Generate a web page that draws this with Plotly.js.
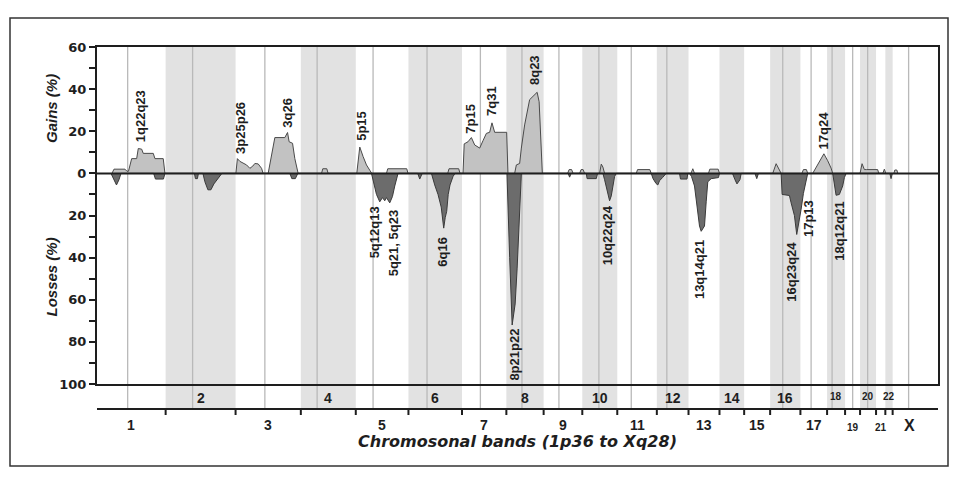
<!DOCTYPE html>
<html>
<head>
<meta charset="utf-8">
<script src="https://cdn.plot.ly/plotly-3.0.1.min.js"></script>
<style>html,body{margin:0;padding:0;background:#fff;}#chart{width:959px;height:480px;}</style>
</head>
<body>
<div id="chart"></div>
<script>
// ---- DATA (genome position in arbitrary units, 1p36 -> Xq28) ----
const chrNames = ['1','2','3','4','5','6','7','8','9','10','11','12','13','14','15','16','17','18','19','20','21','22','X'];
const chrBounds = [0,68.7,138.7,204,259,311.7,365.3,409.7,447,485.7,520.7,560.3,592,623,647.7,673.7,704,730.7,748.7,763.7,779.7,789,796.3,829.7];
const centromeres = [30.7,95.7,168,220.3,276.3,330.3,383.7,425.3,462.3,502.3,534.7,570.3,686.3,714.7,735.7,756.3,771.3,812.3];

const gainPos = [15,17,28,30,31.5,34.7,39.7,41.3,44.7,46.3,56.3,58,66.3,68,
  139,140.5,143,146.3,149.7,153,156,158,161.3,164.7,166.3,
  171.3,178,188,190.7,192.3,195.7,198,201.3,
  224.7,226,230,231.3,
  260,263,266.3,269.7,273,275,289.7,291,310,311.3,
  351,352.3,362,363.3,
  366.3,367.5,371.3,374.7,378,383,386.3,389.7,393,395.3,398,410,411.3,
  418,419.7,423,424.7,428,433,436.3,439,440.5,442.5,444.5,445.7,
  471,472.5,475,476.5,483,484.5,486.5,488,
  503,504.7,506.3,508,
  539.7,541,553.3,554.7,
  594.5,596.3,598,
  612,613.3,621.7,623,
  676.3,679.7,684.7,
  705.5,707,710,711.3,716.3,721.3,727.5,731.3,734.7,736.3,
  763.7,765.7,768,770,781.3,782.5,786.5,788,789.5,797.5,798.5,800.5,801.5];
const gainVal = [0,2,2,1,1,7,7,11.8,11.5,9.5,9.5,7,7,0,
  0,7,5.7,4.8,4,2.4,3.5,4.7,4.5,2.4,0,
  0,17,17,19.4,15,14.3,7,0,
  0,2.2,2.2,0,
  0,12.5,8,4,1.5,0,0,2.2,2.2,0,
  0,2.2,2.2,0,
  0,14,15,17,13.5,12,15.5,19,19.5,24,19.5,19.5,0,
  0,4,4.7,12,23,35,36.5,37.5,38.5,34,14,0,
  0,1.8,1.8,0,0,1.8,1.8,0,
  0,4.4,3,0,
  0,1.8,1.8,0,
  0,2.2,0,
  0,2,2,0,
  0,4.6,0,
  0,1.8,1.8,0,0,4.3,9.3,6,2.5,0,
  0,4.6,1.8,1.8,1.8,0,0,2,0,0,1.6,1.6,0];

const lossPos = [14,17,19.5,22,24,56.7,58.5,66.5,68,
  97.5,98.5,100.5,101.5,106,108,111,114,117,121,125,
  193,195,198.5,201,
  274.7,277,279.7,283,285.7,288,289.7,293,295.7,298,300.3,301.3,
  321,323,325.5,334.7,338,341.3,344.5,347,348.5,350,351.5,353.3,356.3,358.3,
  410.3,411,413,415.5,418.5,420.5,422.5,423.7,424.7,
  471.5,473,474.5,
  489.7,490.5,499.7,501,506.3,508,509.7,511.3,513,514.7,516.3,518,519.7,
  554.7,556.5,559.5,561.3,563,566,569.7,
  583,584,590.5,591.3,
  593,595,598,599.7,601.3,603,604.7,608,609.7,611.3,614.7,622,623,
  636,638.5,640.5,643.5,644.7,
  658.5,660.3,662,
  684.7,685.7,693,694.7,698,700.3,702.3,704.7,707,709.7,711.3,
  736.3,738,739.7,743,746.3,748,749.7,
  793.5,794.7,796];
const lossVal = [0,-3,-5.5,-3,0,0,-2.7,-2.7,0,
  0,-2.5,-2.5,0,0,-4,-7.8,-7.8,-5,-2.5,0,
  0,-2.5,-2.5,0,
  0,-4,-10,-13.5,-11.5,-13,-11.5,-14,-11,-6,-2,0,
  0,-2.7,0,0,-5.5,-10,-16,-26,-21,-18,-10,-5.5,-1.5,0,
  0,-12,-40,-72,-62,-45,-25,-12,0,
  0,-1.8,0,
  0,-2.5,-2.5,0,0,-3,-6.7,-10.7,-13,-10.7,-5,-1.5,0,
  0,-2.5,-4.8,-5.5,-3.5,-2,0,
  0,-2.7,-2.7,0,
  0,-1.5,-6,-12,-18.8,-25,-27.5,-25,-13.5,-4,-2.5,-2,0,
  0,-3,-5,-3,0,
  0,-2.5,0,
  0,-10,-10.5,-14,-20,-29,-24,-17,-9.5,-3,0,
  0,-6,-10.4,-10,-6,-2,0,
  0,-2.5,0];

const gainLabels = ['1q22q23','3p25p26','3q26','5p15','7p15','7q31','8q23','17q24'];
const gainLabelPos = [43,143,190.5,264.7,373,394.7,438,727];
const gainLabelVal = [14.3,8.7,21.4,15.2,18.2,27,41.3,11.1];
const lossLabels = ['5q12q13','5q21, 5q23','6q16','8p21p22','10q22q24','13q14q21','16q23q24','17p13','18q12q21'];
const lossLabelPos = [278,296.3,346.3,418,511,603,695.5,711.5,743];
const lossLabelVal = [-15.3,-16.8,-29.6,-73.4,-14.9,-31.2,-32,-12,-13];

const yTickVals = [-100,-90,-80,-70,-60,-50,-40,-30,-20,-10,0,10,20,30,40,50,60];
const yTickText = ['100','','80','','60','','40','','20','','0','','20','','40','','60'];

// ---- LAYOUT HELPERS ----
const W = 959, H = 480, ML = 97, MR = 21, MT = 47, MB = 96;
const plotH = H - MT - MB;
const py = p => (H - MB - p) / plotH;           // pixel y -> paper y
const px = p => (p - ML) / (W - ML - MR);       // pixel x -> paper x
const dark = '#1e1e1e';
const stripY = py(409);

const shapes = [];
const annotations = [];

// even-chromosome shading
for (let i = 1; i < 22; i += 2) {
  shapes.push({type:'rect', xref:'x', yref:'paper', x0:chrBounds[i], x1:chrBounds[i+1], y0:stripY, y1:1,
    fillcolor:'#e2e2e2', line:{width:0}, layer:'below'});
}
// centromere lines
centromeres.forEach(c => shapes.push({type:'line', xref:'x', yref:'paper', x0:c, x1:c, y0:stripY, y1:1,
  line:{color:'#b9b9b9', width:1.3}, layer:'below'}));
// zero line
shapes.push({type:'line', xref:'paper', yref:'y', x0:0, x1:1, y0:0, y1:0, line:{color:dark, width:2}, layer:'above'});
// strip line + ticks
shapes.push({type:'line', xref:'paper', yref:'paper', x0:0, x1:1, y0:stripY, y1:stripY, line:{color:dark, width:2}});
for (let i = 1; i <= 22; i++) {
  shapes.push({type:'line', xref:'x', yref:'paper', x0:chrBounds[i], x1:chrBounds[i], y0:stripY, y1:py(415), line:{color:dark, width:2}});
}
// outer frame
shapes.push({type:'rect', xref:'paper', yref:'paper', x0:px(10), x1:px(948), y0:py(466), y1:py(18),
  line:{color:'#333', width:1.5}, fillcolor:'rgba(0,0,0,0)'});

// chromosome labels
const smallChr = ['18','19','20','21','22'];
chrNames.forEach((n, i) => {
  const c = (chrBounds[i] + chrBounds[i+1]) / 2;
  const even = (i % 2 === 1);
  const small = smallChr.includes(n);
  annotations.push({xref:'x', yref:'paper', x:c, y: even ? py(small ? 396.5 : 398) : py(small ? 427 : 425),
    text:n, showarrow:false, xanchor:'center', yanchor:'middle',
    font:{family:'Liberation Sans, Arial', size: small ? 10 : (n === 'X' ? 16 : 14), weight:'bold', color:dark}});
});

// peak labels
const lblFont = {family:'Liberation Sans, Arial', size:13, weight:'bold', color:dark};
gainLabels.forEach((t, i) => annotations.push({xref:'x', yref:'y', x:gainLabelPos[i], y:gainLabelVal[i], text:t,
  textangle:-90, showarrow:false, xanchor:'center', yanchor:'bottom', font:lblFont, borderpad:0}));
lossLabels.forEach((t, i) => annotations.push({xref:'x', yref:'y', x:lossLabelPos[i], y:lossLabelVal[i], text:t,
  textangle:-90, showarrow:false, xanchor:'center', yanchor:'top', font:lblFont, borderpad:0}));

// axis titles
const titFont = {family:'Liberation Sans, Arial', size:15, weight:'bold', style:'italic', color:dark};
annotations.push({xref:'paper', yref:'paper', x:px(51), y:py(109), text:'Gains (%)', textangle:-90, showarrow:false,
  xanchor:'center', yanchor:'middle', font:titFont});
annotations.push({xref:'paper', yref:'paper', x:px(51), y:py(277.5), text:'Losses (%)', textangle:-90, showarrow:false,
  xanchor:'center', yanchor:'middle', font:titFont});
annotations.push({xref:'paper', yref:'paper', x:0.5, y:py(441), text:'Chromosonal bands (1p36 to Xq28)', showarrow:false,
  xanchor:'center', yanchor:'middle', font:{family:'DejaVu Sans', size:16, weight:'bold', style:'italic', color:dark}});

const traces = [
  {x:gainPos, y:gainVal, type:'scatter', mode:'lines', fill:'tozeroy', fillcolor:'#c2c2c2',
   line:{color:'#4a4a4a', width:1}, hoverinfo:'skip'},
  {x:lossPos, y:lossVal, type:'scatter', mode:'lines', fill:'tozeroy', fillcolor:'#6c6c6c',
   line:{color:'#3a3a3a', width:1}, hoverinfo:'skip'}
];

const layout = {
  width:W, height:H, margin:{l:ML, r:MR, t:MT, b:MB, pad:0},
  paper_bgcolor:'#fff', plot_bgcolor:'rgba(0,0,0,0)', showlegend:false,
  xaxis:{range:[0, chrBounds[chrBounds.length-1] + 12], showgrid:false, zeroline:false, showticklabels:false, ticks:'',
    showline:true, mirror:true, linecolor:dark, linewidth:2, fixedrange:true},
  yaxis:{range:[-100, 60], showgrid:false, zeroline:false, tickmode:'array', tickvals:yTickVals, ticktext:yTickText,
    ticks:'outside', ticklen:6, tickwidth:2, tickcolor:dark, showline:true, mirror:true, linecolor:dark, linewidth:2,
    tickfont:{family:'DejaVu Sans', size:13, weight:'bold', color:dark}, fixedrange:true},
  shapes:shapes, annotations:annotations
};

Plotly.newPlot('chart', traces, layout, {staticPlot:true, displayModeBar:false});
</script>
</body>
</html>
